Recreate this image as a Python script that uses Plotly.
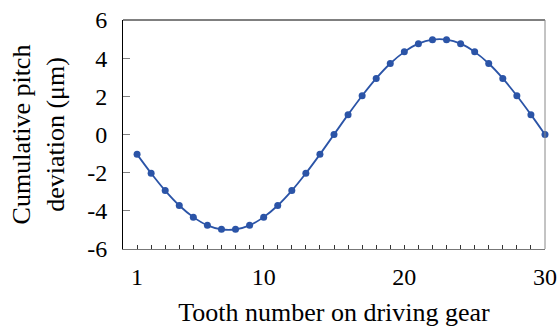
import plotly.graph_objects as go

# Tooth index on the driving gear and cumulative pitch deviation (µm)
teeth = list(range(1, 31))
deviation = [-1.04, -2.03, -2.94, -3.72, -4.33, -4.76, -4.97, -4.97, -4.76, -4.33,
             -3.72, -2.94, -2.03, -1.04, 0.0, 1.04, 2.03, 2.94, 3.72, 4.33,
             4.76, 4.97, 4.97, 4.76, 4.33, 3.72, 2.94, 2.03, 1.04, 0.0]

x_labels = [1, 10, 20, 30]
x_major = [10, 20]
y_ticks = [-6, -4, -2, 0, 2, 4, 6]

FONT = "Liberation Serif"
BLUE = "#2b54a7"

fig = go.Figure()
fig.add_trace(go.Scatter(
    x=teeth, y=deviation, mode="lines+markers",
    line=dict(color=BLUE, width=1.8, shape="spline", smoothing=0.8),
    marker=dict(color=BLUE, size=7),
    showlegend=False, cliponaxis=False,
))

fig.update_layout(
    width=559, height=327,
    margin=dict(l=123, r=14, t=20, b=78, autoexpand=False),
    paper_bgcolor="white", plot_bgcolor="white",
    font=dict(family=FONT, size=24, color="black"),
    xaxis=dict(
        range=[0, 30], tickvals=x_labels, ticktext=[str(v) for v in x_labels],
        ticks="inside", ticklen=4, tickwidth=1, tickcolor="#333",
        minor=dict(dtick=1, tick0=0, ticks="inside", ticklen=4, tickcolor="#333", showgrid=False),
        showline=True, linecolor="#777", linewidth=1, showgrid=False, zeroline=False,
        ticklabelstandoff=6, automargin=False,
        title=dict(text="Tooth number on driving gear", font=dict(size=26), standoff=25),
    ),
    xaxis2=dict(
        range=[0, 30], overlaying="x", side="bottom", anchor="y",
        tickvals=x_major, ticks="inside", ticklen=7, tickwidth=1, tickcolor="black",
        showticklabels=False, showgrid=False, zeroline=False, showline=False,
    ),
    yaxis=dict(
        range=[-6, 6], tickvals=y_ticks, ticktext=[str(v) for v in y_ticks],
        ticks="inside", ticklen=7, tickwidth=1, tickcolor="#808080",
        showline=True, linecolor="black", linewidth=1, showgrid=False, zeroline=False,
        ticklabelstandoff=10, automargin=False,
        title=dict(text="Cumulative pitch<br>deviation (μm)", font=dict(size=26), standoff=15),
    ),
    shapes=[
        dict(type="line", xref="paper", yref="paper", x0=0, x1=1, y0=1, y1=1,
             line=dict(color="black", width=1)),
        dict(type="line", xref="paper", yref="paper", x0=1, x1=1, y0=0, y1=1,
             line=dict(color="#888", width=1)),
    ],
)

fig.write_html("out.html")
